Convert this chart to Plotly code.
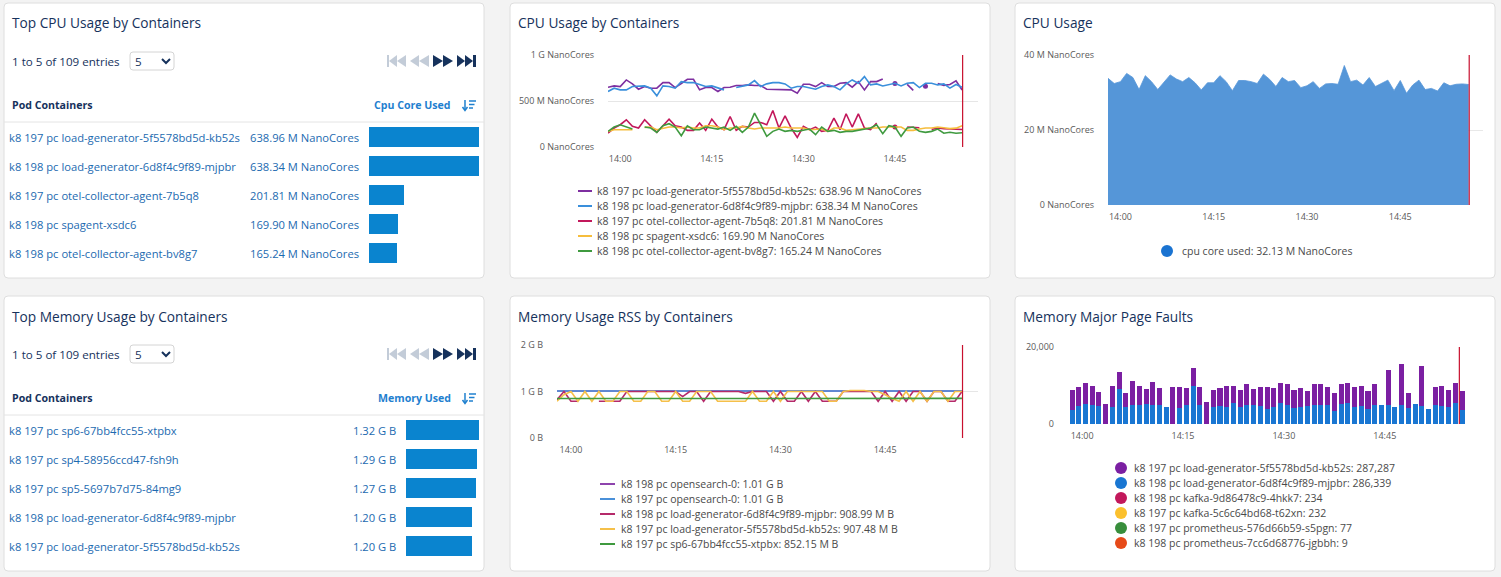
import plotly.graph_objects as go
import pandas as pd

W, H = 1501, 577
FONT = "Segoe UI, Open Sans, sans-serif"

# ---------------- data ----------------
cpu_top_names = ["k8 197 pc load-generator-5f5578bd5d-kb52s",
                 "k8 198 pc load-generator-6d8f4c9f89-mjpbr",
                 "k8 197 pc otel-collector-agent-7b5q8",
                 "k8 198 pc spagent-xsdc6",
                 "k8 198 pc otel-collector-agent-bv8g7"]
cpu_top_values = [638.96, 638.34, 201.81, 169.90, 165.24]          # M NanoCores
cpu_top_labels = ["638.96 M NanoCores", "638.34 M NanoCores", "201.81 M NanoCores",
                  "169.90 M NanoCores", "165.24 M NanoCores"]

mem_top_names = ["k8 197 pc sp6-67bb4fcc55-xtpbx",
                 "k8 197 pc sp4-58956ccd47-fsh9h",
                 "k8 197 pc sp5-5697b7d75-84mg9",
                 "k8 198 pc load-generator-6d8f4c9f89-mjpbr",
                 "k8 197 pc load-generator-5f5578bd5d-kb52s"]
mem_top_values = [1.32, 1.29, 1.27, 1.20, 1.20]                    # G B
mem_top_labels = ["1.32 G B", "1.29 G B", "1.27 G B", "1.20 G B", "1.20 G B"]

times = pd.date_range("2024-01-01 13:58", periods=59, freq="1min")
bar_times = pd.date_range("2024-01-01 13:58:30", periods=59, freq="1min")
now_marker = "2024-01-01 14:56:05"

# CPU Usage by Containers (M NanoCores)
cpu_series_names = ["k8 197 pc load-generator-5f5578bd5d-kb52s: 638.96 M NanoCores",
                    "k8 198 pc load-generator-6d8f4c9f89-mjpbr: 638.34 M NanoCores",
                    "k8 197 pc otel-collector-agent-7b5q8: 201.81 M NanoCores",
                    "k8 198 pc spagent-xsdc6: 169.90 M NanoCores",
                    "k8 198 pc otel-collector-agent-bv8g7: 165.24 M NanoCores"]
cpu_series_colors = ["#7e2fa0", "#3a8fdb", "#c2185b", "#f6bd3c", "#3f9a3f"]
cpu_lg197 = [650, 664, 657, 729, 686, 628, 657, 639, 639, 700,
             700, 646, 690, 736, 736, 621, 646, 646, 603, 646,
             650, 668, 668, 675, 668, 668, 628, 628, 621, 628,
             621, 585, 682, 682, 657, 700, 657, 657, 693, 700,
             650, 711, 620, 711, 711, 740, None, 690, None, 680,
             615, None, 660, None, 690, 670, 680, 720, 620]
cpu_lg198 = [603, 639, 621, 621, 657, 664, 664, 639, 556, 664,
             657, 639, 711, 700, 700, 680, 657, 664, 639, 621,
             None, 646, 657, 675, 722, 657, 686, 700, 700, 686,
             639, 657, 657, 639, 628, 657, 675, 657, 621, 686,
             729, 693, 765, 675, 686, 664, 675, 693, 664, 693,
             700, 646, 693, 693, 675, 686, 640, 680, 650]
cpu_otel197 = [152, 206, 242, 296, 224, 206, 296, 231, 159, 231,
               303, 231, 217, 181, 181, 260, 181, 303, 217, 188,
               332, 181, 224, 217, 267, 267, 242, 397, 206, 339,
               206, 105, 224, 188, 217, 170, 181, 314, 188, 361,
               217, 361, 206, 188, 260, None, None, 217, None, 217,
               217, 210, None, 190, 206, 200, 195, 195, 190]
cpu_spagent = [170, 188, 188, 188, 188, None, 213, 217, 188, 206,
               217, 217, 206, 217, 206, 206, 231, 231, 217, 188,
               206, 206, 224, 206, 195, 206, 206, 206, 206, 217,
               206, 206, 206, 188, 188, 195, 170, 206, 206, 181,
               188, 195, 195, 206, 206, 217, 217, 217, 217, 181,
               181, 195, 206, 206, 217, 210, 200, 205, 231]
cpu_otel198 = [170, 217, 242, 217, 195, None, 217, 206, 159, 231,
               253, 217, 123, 231, 188, 188, 217, 206, 195, 217,
               181, 224, 159, 217, 368, 242, 116, 170, 195, 170,
               181, 170, 181, 195, 134, 217, 170, 181, 159, 170,
               170, 181, 195, 206, 242, 144, 231, 217, 116, 206,
               217, 170, 159, 170, 195, 150, 160, 150, 155]

# CPU Usage (M NanoCores)
cpu_usage = [33.8, 32.4, 32.9, 35.1, 34.0, 30.8, 34.5, 32.9, 30.8, 32.9,
             34.7, 33.6, 32.9, 34.0, 32.6, 30.7, 32.6, 32.6, 34.5, 32.9,
             30.5, 33.2, 33.2, 32.9, 32.4, 34.9, 33.5, 31.6, 34.0, 32.9,
             33.2, 31.3, 31.8, 32.9, 31.1, 32.3, 32.4, 32.2, 37.2, 32.9,
             33.3, 32.0, 34.0, 31.6, 32.4, 33.3, 30.5, 33.2, 29.8, 32.0,
             33.3, 30.8, 31.1, 30.4, 32.6, 31.8, 32.2, 32.3, 32.13]

# Memory Usage RSS (G B)
mem_series_names = ["k8 198 pc opensearch-0: 1.01 G B",
                    "k8 197 pc opensearch-0: 1.01 G B",
                    "k8 198 pc load-generator-6d8f4c9f89-mjpbr: 908.99 M B",
                    "k8 197 pc load-generator-5f5578bd5d-kb52s: 907.48 M B",
                    "k8 197 pc sp6-67bb4fcc55-xtpbx: 852.15 M B"]
mem_series_colors = ["#8e44ad", "#4a90d9", "#b52a6a", "#f5c04a", "#3f9a3f"]
mem_os198 = [1.01, 1.01, 1.01, 1.01, 1.01, 1.01, 1.01, 1.01, 1.01, 1.01,
             1.01, 1.01, 1.01, 1.01, 1.01, 1.01, 1.01, 1.01, 1.01, 1.01,
             1.01, 1.01, 1.01, 1.01, 1.01, 1.01, 1.01, 1.01, 1.01, 1.01,
             1.01, 1.01, 1.01, 1.01, 1.01, 1.01, 1.01, 1.01, 1.01, 1.01,
             1.01, 1.01, 1.01, 1.01, 1.01, 1.01, 1.01, 1.01, 1.01, 1.01,
             1.01, 1.01, 1.01, 1.01, 1.01, 1.01, 1.01, 1.01, 1.01]
mem_os197 = [1.01, 1.01, 1.01, 1.01, 1.01, 1.01, 1.01, 1.01, 1.01, 1.01,
             1.01, 1.01, 1.01, 1.01, 1.01, 1.01, 1.01, 1.01, 1.01, 1.01,
             1.01, 1.01, 1.01, 1.01, 1.01, 1.01, 1.01, 1.01, 1.01, 1.01,
             1.01, 1.01, 1.01, 1.01, 1.01, 1.01, 1.01, 1.01, 1.01, 1.01,
             1.01, 1.01, 1.01, 1.01, 1.01, 1.01, 1.01, 1.01, 1.01, 1.01,
             1.01, 1.01, 1.01, 1.01, 1.01, 1.01, 1.01, 1.01, 1.01]
mem_lg198 = [0.82, 1.0, 0.79, 0.79, None, None, 0.79, 0.79, 0.79, 0.79,
             1.0, 1.0, 1.0, 1.0, 1.0, 1.0, 1.0, 1.0, 0.89, 1.0,
             1.0, 0.79, 1.0, 1.0, 1.0, 1.0, 1.0, 0.96, 1.0, 1.0,
             1.0, 0.79, 1.0, 0.79, 0.79, 1.0, 0.79, 1.0, 0.79, 0.79,
             0.79, 1.0, 1.0, 1.0, 1.0, 1.0, 0.79, 1.0, 0.79, 1.0,
             0.79, 1.0, 1.0, 0.79, 1.0, 1.0, 0.79, 0.79, 1.0]
mem_lg197 = [0.79, 0.93, 1.0, 0.79, 1.0, 0.79, 1.0, 0.79, 0.79, 1.0,
             1.0, 0.79, 0.79, 1.0, 1.0, 0.79, 0.79, 1.0, 0.79, 0.79,
             1.0, 1.0, 1.0, 0.79, 0.79, 0.79, 0.79, 0.79, 1.0, 0.79,
             0.79, 1.0, 0.79, 1.0, 1.0, 1.0, 1.0, 1.0, 1.0, 0.79,
             0.79, 1.0, 1.02, 1.02, 1.02, 1.0, 1.0, 0.93, 0.85, 0.79,
             1.0, 0.79, 1.0, 0.79, 1.0, 1.0, 0.79, 1.0, 1.0]
mem_sp6 = [0.85, 0.85, 0.85, 0.85, 0.85, 0.85, 0.85, 0.85, 0.85, 0.85,
           0.85, 0.85, 0.85, 0.85, 0.85, 0.85, 0.85, 0.85, 0.85, 0.85,
           0.85, 0.85, 0.85, 0.85, 0.85, 0.85, 0.85, 0.85, 0.85, 0.85,
           0.85, 0.85, 0.85, 0.85, 0.85, 0.85, 0.85, 0.85, 0.85, 0.85,
           0.85, 0.85, 0.85, 0.85, 0.85, 0.85, 0.85, 0.85, 0.85, 0.85,
           0.85, 0.85, 0.85, 0.85, 0.85, 0.85, 0.85, 0.85, 0.852]

# Memory Major Page Faults
pf_names = ["k8 197 pc load-generator-5f5578bd5d-kb52s: 287,287",
            "k8 198 pc load-generator-6d8f4c9f89-mjpbr: 286,339",
            "k8 198 pc kafka-9d86478c9-4hkk7: 234",
            "k8 197 pc kafka-5c6c64bd68-t62xn: 232",
            "k8 197 pc prometheus-576d66b59-s5pgn: 77",
            "k8 198 pc prometheus-7cc6d68776-jgbbh: 9"]
pf_colors = ["#7b1fa2", "#1976d2", "#c2185b", "#fbc02d", "#388e3c", "#e64a19"]
pf_lg197 = [5100, 4800, 5300, 5100, 3600, 5300, 5600, 4500, 3600, 6200,
            5100, 3700, 5900, 4400, 0, 9500, 5300, 4400, 4800, 4600,
            5700, 4400, 4600, 5400, 4600, 4400, 5400, 4100, 4800, 5600,
            4900, 5200, 5400, 4600, 4900, 3800, 5400, 5400, 4600, 4600,
            5100, 5200, 5100, 5100, 4500, 5400, 0, 9200, 0, 10800,
            3800, 0, 10400, 0, 4600, 5300, 4400, 5200, 4800]
pf_lg198 = [3660, 4700, 5300, 4900, 4700, 0, 4400, 9100, 4400, 4900,
            4900, 5300, 4900, 4900, 4400, 0, 4200, 4900, 9800, 4900,
            0, 4400, 4700, 4400, 5400, 4400, 4900, 4900, 4700, 3900,
            4400, 5400, 4900, 4200, 4400, 4700, 4900, 4900, 4900, 3400,
            5200, 5400, 4400, 4700, 4000, 4900, 4900, 4900, 4400, 4900,
            4200, 5200, 4700, 3900, 4900, 4700, 4400, 5400, 3700]

for s in [cpu_lg197, cpu_lg198, cpu_otel197, cpu_spagent, cpu_otel198, cpu_usage,
          mem_os198, mem_os197, mem_lg198, mem_lg197, mem_sp6, pf_lg197, pf_lg198]:
    assert len(s) == 59, len(s)

# ---------------- helpers ----------------
def X(x):
    return x / W


def Y(y):
    return 1 - y / H


shapes, annotations = [], []

NAVY = "#16325c"
LINK = "#1c6ab0"
HEAD_BLUE = "#1f80cf"
GREY_TXT = "#4a4a4a"
TICK = "#5a5a5a"

TITLE_SIZE = 13.7
ROW_SIZE = 11.2
LEG_SIZE = 10.5
HEAD_SIZE = 10.6


def rrect(x0, y0, x1, y1, r, fill, line, lw=1):
    pts = (f"M {X(x0 + r)},{Y(y0)} L {X(x1 - r)},{Y(y0)} Q {X(x1)},{Y(y0)} {X(x1)},{Y(y0 + r)} "
           f"L {X(x1)},{Y(y1 - r)} Q {X(x1)},{Y(y1)} {X(x1 - r)},{Y(y1)} "
           f"L {X(x0 + r)},{Y(y1)} Q {X(x0)},{Y(y1)} {X(x0)},{Y(y1 - r)} "
           f"L {X(x0)},{Y(y0 + r)} Q {X(x0)},{Y(y0)} {X(x0 + r)},{Y(y0)} Z")
    shapes.append(dict(type="path", xref="paper", yref="paper", path=pts,
                       fillcolor=fill, line=dict(color=line, width=lw), layer="below"))


def hline(x0, x1, y, color, lw=1):
    shapes.append(dict(type="line", xref="paper", yref="paper", x0=X(x0), x1=X(x1),
                       y0=Y(y), y1=Y(y), line=dict(color=color, width=lw)))


def poly(pts, fill=None, line=None, lw=1, closed=True):
    d = "M " + " L ".join(f"{X(a):.5f},{Y(b):.5f}" for a, b in pts) + (" Z" if closed else "")
    shapes.append(dict(type="path", xref="paper", yref="paper", path=d,
                       fillcolor=fill if fill else "rgba(0,0,0,0)",
                       line=dict(color=line if line else "rgba(0,0,0,0)", width=lw if line else 0)))


def circle(cx, cy, r, color):
    shapes.append(dict(type="circle", xref="paper", yref="paper",
                       x0=X(cx - r), x1=X(cx + r), y0=Y(cy + r), y1=Y(cy - r),
                       fillcolor=color, line=dict(width=0)))


def text(x, y, s, size=12, color=NAVY, anchor="left", yref="paper"):
    annotations.append(dict(x=X(x), y=Y(y) if yref == "paper" else y, xref="paper", yref=yref,
                            text=s, showarrow=False, xanchor=anchor, yanchor="middle",
                            borderpad=0, borderwidth=0,
                            font=dict(size=size, color=color, family=FONT)))


# ---------------- panels ----------------
panels = [(4, 3, 484, 278), (510, 3, 990, 278), (1015, 3, 1495, 278),
          (4, 296, 484, 571), (510, 296, 990, 571), (1015, 296, 1495, 571)]
for p in panels:
    rrect(*p, 4, "white", "#dedede")

titles = ["Top CPU Usage by Containers", "CPU Usage by Containers", "CPU Usage",
          "Top Memory Usage by Containers", "Memory Usage RSS by Containers",
          "Memory Major Page Faults"]
for p, t in zip(panels, titles):
    text(p[0] + 8, p[1] + 20, t, size=TITLE_SIZE, color=NAVY)


# ---------------- table panels ----------------
def table_chrome(top, col_title):
    text(12, top + 58, "1 to 5 of 109 entries", size=11.6, color=NAVY)
    rrect(130, top + 49, 174, top + 67, 3, "white", "#d4d4d4")
    text(135, top + 58, "5", size=11.6, color=NAVY)
    poly([(162, top + 56), (166, top + 60), (170, top + 56)], line=NAVY, lw=2, closed=False)
    cy = top + 58
    light, dark = "#c3ccd8", "#16325c"
    poly([(387, cy - 6), (389, cy - 6), (389, cy + 6), (387, cy + 6)], fill=light)
    poly([(389, cy), (397, cy - 6), (397, cy + 6)], fill=light)
    poly([(397, cy), (406, cy - 6), (406, cy + 6)], fill=light)
    poly([(410, cy), (419, cy - 6), (419, cy + 6)], fill=light)
    poly([(419, cy), (429, cy - 6), (429, cy + 6)], fill=light)
    poly([(433, cy - 6), (443, cy), (433, cy + 6)], fill=dark)
    poly([(443, cy - 6), (453, cy), (443, cy + 6)], fill=dark)
    poly([(457, cy - 6), (465, cy), (457, cy + 6)], fill=dark)
    poly([(465, cy - 6), (473, cy), (465, cy + 6)], fill=dark)
    poly([(473, cy - 6), (476, cy - 6), (476, cy + 6), (473, cy + 6)], fill=dark)
    text(12, top + 102, "<b>Pod Containers</b>", size=HEAD_SIZE, color=NAVY)
    text(451, top + 102, "<b>" + col_title + "</b>", size=HEAD_SIZE, color=HEAD_BLUE, anchor="right")
    hy = top + 102
    poly([(465, hy - 5), (465, hy + 5)], line=HEAD_BLUE, lw=1.5, closed=False)
    poly([(462.5, hy + 2), (465, hy + 5.5), (467.5, hy + 2)], line=HEAD_BLUE, lw=1.5, closed=False)
    poly([(469, hy - 4), (476, hy - 4)], line=HEAD_BLUE, lw=1.5, closed=False)
    poly([(469, hy - 0.5), (474.5, hy - 0.5)], line=HEAD_BLUE, lw=1.5, closed=False)
    poly([(469, hy + 3), (473, hy + 3)], line=HEAD_BLUE, lw=1.5, closed=False)
    hline(4, 484, top + 119, "#e4e4e4")


table_chrome(3, "Cpu Core Used")
table_chrome(296, "Memory Used")

fig = go.Figure()

# CPU table bars
fig.add_trace(go.Bar(x=cpu_top_values, y=cpu_top_names, orientation="h", width=0.66,
                     marker=dict(color="#0a84cf", line=dict(width=0)),
                     xaxis="x", yaxis="y", showlegend=False, hoverinfo="skip"))
for n, lab in zip(cpu_top_names, cpu_top_labels):
    text(9, n, n, size=ROW_SIZE, color=LINK, yref="y")
    text(250, n, lab, size=ROW_SIZE, color=LINK, yref="y")

# Memory table bars
fig.add_trace(go.Bar(x=mem_top_values, y=mem_top_names, orientation="h", width=0.66,
                     marker=dict(color="#0a84cf", line=dict(width=0)),
                     xaxis="x4", yaxis="y4", showlegend=False, hoverinfo="skip"))
for n, lab in zip(mem_top_names, mem_top_labels):
    text(9, n, n, size=ROW_SIZE, color=LINK, yref="y4")
    text(396, n, lab, size=ROW_SIZE, color=LINK, anchor="right", yref="y4")


# ---------------- line charts ----------------
def add_lines(series, colors, xa, ya, scale):
    for s, c in zip(series, colors):
        ys = [v * scale if v is not None else None for v in s]
        fig.add_trace(go.Scatter(x=times, y=ys, mode="lines", line=dict(color=c, width=1.6),
                                 connectgaps=False, xaxis=xa, yaxis=ya,
                                 showlegend=False, hoverinfo="skip"))
        iso_x, iso_y = [], []
        for i, v in enumerate(ys):
            if v is None:
                continue
            left = ys[i - 1] if i > 0 else None
            right = ys[i + 1] if i < len(ys) - 1 else None
            if left is None and right is None:
                iso_x.append(times[i])
                iso_y.append(v)
        if iso_x:
            fig.add_trace(go.Scatter(x=iso_x, y=iso_y, mode="markers", marker=dict(color=c, size=5),
                                     xaxis=xa, yaxis=ya, showlegend=False, hoverinfo="skip"))


add_lines([cpu_lg197, cpu_lg198, cpu_otel197, cpu_spagent, cpu_otel198],
          cpu_series_colors, "x2", "y2", 1e6)
add_lines([mem_os198, mem_os197, mem_lg198, mem_lg197, mem_sp6],
          mem_series_colors, "x5", "y5", 1.0)

# CPU Usage area
fig.add_trace(go.Scatter(x=times, y=[v * 1e6 for v in cpu_usage], mode="lines", fill="tozeroy",
                         line=dict(color="#5596d8", width=0.8), fillcolor="#5596d8",
                         xaxis="x3", yaxis="y3", showlegend=False, hoverinfo="skip"))

# Page faults stacked bars
fig.add_trace(go.Bar(x=bar_times, y=pf_lg198, marker=dict(color=pf_colors[1], line=dict(width=0)),
                     xaxis="x6", yaxis="y6", showlegend=False, hoverinfo="skip"))
fig.add_trace(go.Bar(x=bar_times, y=pf_lg197, marker=dict(color=pf_colors[0], line=dict(width=0)),
                     xaxis="x6", yaxis="y6", showlegend=False, hoverinfo="skip"))

# now markers
for xa in ["x2", "x3", "x5", "x6"]:
    ya = "y" + xa[1:]
    shapes.append(dict(type="line", xref=xa, yref=ya + " domain", x0=now_marker, x1=now_marker,
                       y0=0, y1=1, line=dict(color="#c8102e", width=1.2), layer="above"))

# ---------------- legends ----------------
for i, (n, c) in enumerate(zip(cpu_series_names, cpu_series_colors)):
    y = 191 + 15 * i
    hline(578, 592, y, c, lw=2)
    text(597, y, n, size=LEG_SIZE, color=GREY_TXT)

circle(1167, 251, 6, "#1a73d1")
text(1182, 251, "cpu core used: 32.13 M NanoCores", size=LEG_SIZE, color=GREY_TXT)

for i, (n, c) in enumerate(zip(mem_series_names, mem_series_colors)):
    y = 484 + 15 * i
    hline(600, 615, y, c, lw=2)
    text(621, y, n, size=LEG_SIZE, color=GREY_TXT)

for i, (n, c) in enumerate(zip(pf_names, pf_colors)):
    y = 468 + 15 * i
    circle(1121, y, 6, c)
    text(1134, y, n, size=LEG_SIZE, color=GREY_TXT)

# ---------------- axes ----------------
tickfont = dict(size=9, color=TICK, family=FONT)


def time_axis(x0, x1, r0, r1, anchor):
    return dict(domain=[X(x0), X(x1)], range=[r0, r1], type="date", anchor=anchor,
                showgrid=False, zeroline=False, showline=False, ticks="",
                tickformat="%H:%M", dtick=15 * 60 * 1000, tick0="2024-01-01 14:00",
                tickfont=tickfont, ticklabelstandoff=5, fixedrange=True)


def val_axis(ytop, ybot, rng, tv, tt, anchor, gridcolor="#e6e6e6", layer="above traces"):
    return dict(domain=[Y(ybot), Y(ytop)], range=rng, anchor=anchor,
                showgrid=True, gridcolor=gridcolor, gridwidth=1, zeroline=False,
                showline=False, ticks="", tickmode="array", tickvals=tv, ticktext=tt,
                tickfont=tickfont, ticklabelstandoff=13, fixedrange=True, layer=layer)


layout = dict(
    width=W, height=H, autosize=False,
    margin=dict(l=0, r=0, t=0, b=0, pad=0, autoexpand=False),
    paper_bgcolor="#f3f3f3", plot_bgcolor="rgba(0,0,0,0)",
    font=dict(family=FONT),
    showlegend=False,
    barmode="stack", bargap=0.25,
    shapes=shapes, annotations=annotations,
    xaxis=dict(domain=[X(369), X(479)], range=[0, 638.96], visible=False, anchor="y", fixedrange=True),
    yaxis=dict(domain=[Y(267.5), Y(122.5)], type="category", categoryorder="array",
               categoryarray=cpu_top_names, range=[4.5, -0.5], visible=False, anchor="x", fixedrange=True),
    xaxis2=time_axis(608, 978, "2024-01-01 13:58", "2024-01-01 14:58:36", "y2"),
    yaxis2=val_axis(55, 147, [0, 1e9], [0, 5e8, 1e9],
                    ["0 NanoCores", "500 M NanoCores", "1 G NanoCores"], "x2", layer="below traces"),
    xaxis3=time_axis(1108, 1483, "2024-01-01 13:58", "2024-01-01 14:58:18", "y3"),
    yaxis3=val_axis(55, 205, [0, 40e6], [0, 20e6, 40e6],
                    ["0 NanoCores", "20 M NanoCores", "40 M NanoCores"], "x3",
                    gridcolor="rgba(0,0,0,0.09)"),
    xaxis4=dict(domain=[X(406), X(479)], range=[0, 1.32], visible=False, anchor="y4", fixedrange=True),
    yaxis4=dict(domain=[Y(560.5), Y(415.5)], type="category", categoryorder="array",
                categoryarray=mem_top_names, range=[4.5, -0.5], visible=False, anchor="x4", fixedrange=True),
    xaxis5=time_axis(557, 978, "2024-01-01 13:58", "2024-01-01 14:58:18", "y5"),
    yaxis5=val_axis(345, 438, [0, 2], [0, 1, 2], ["0 B", "1 G B", "2 G B"], "x5", layer="below traces"),
    xaxis6=time_axis(1068, 1483, "2024-01-01 13:57:54", "2024-01-01 14:59:36", "y6"),
    yaxis6=val_axis(347, 424, [0, 20000], [0, 20000], ["0", "20,000"], "x6", layer="below traces"),
)
fig.update_layout(**layout)
fig.write_html("out.html", config={"displayModeBar": False})
